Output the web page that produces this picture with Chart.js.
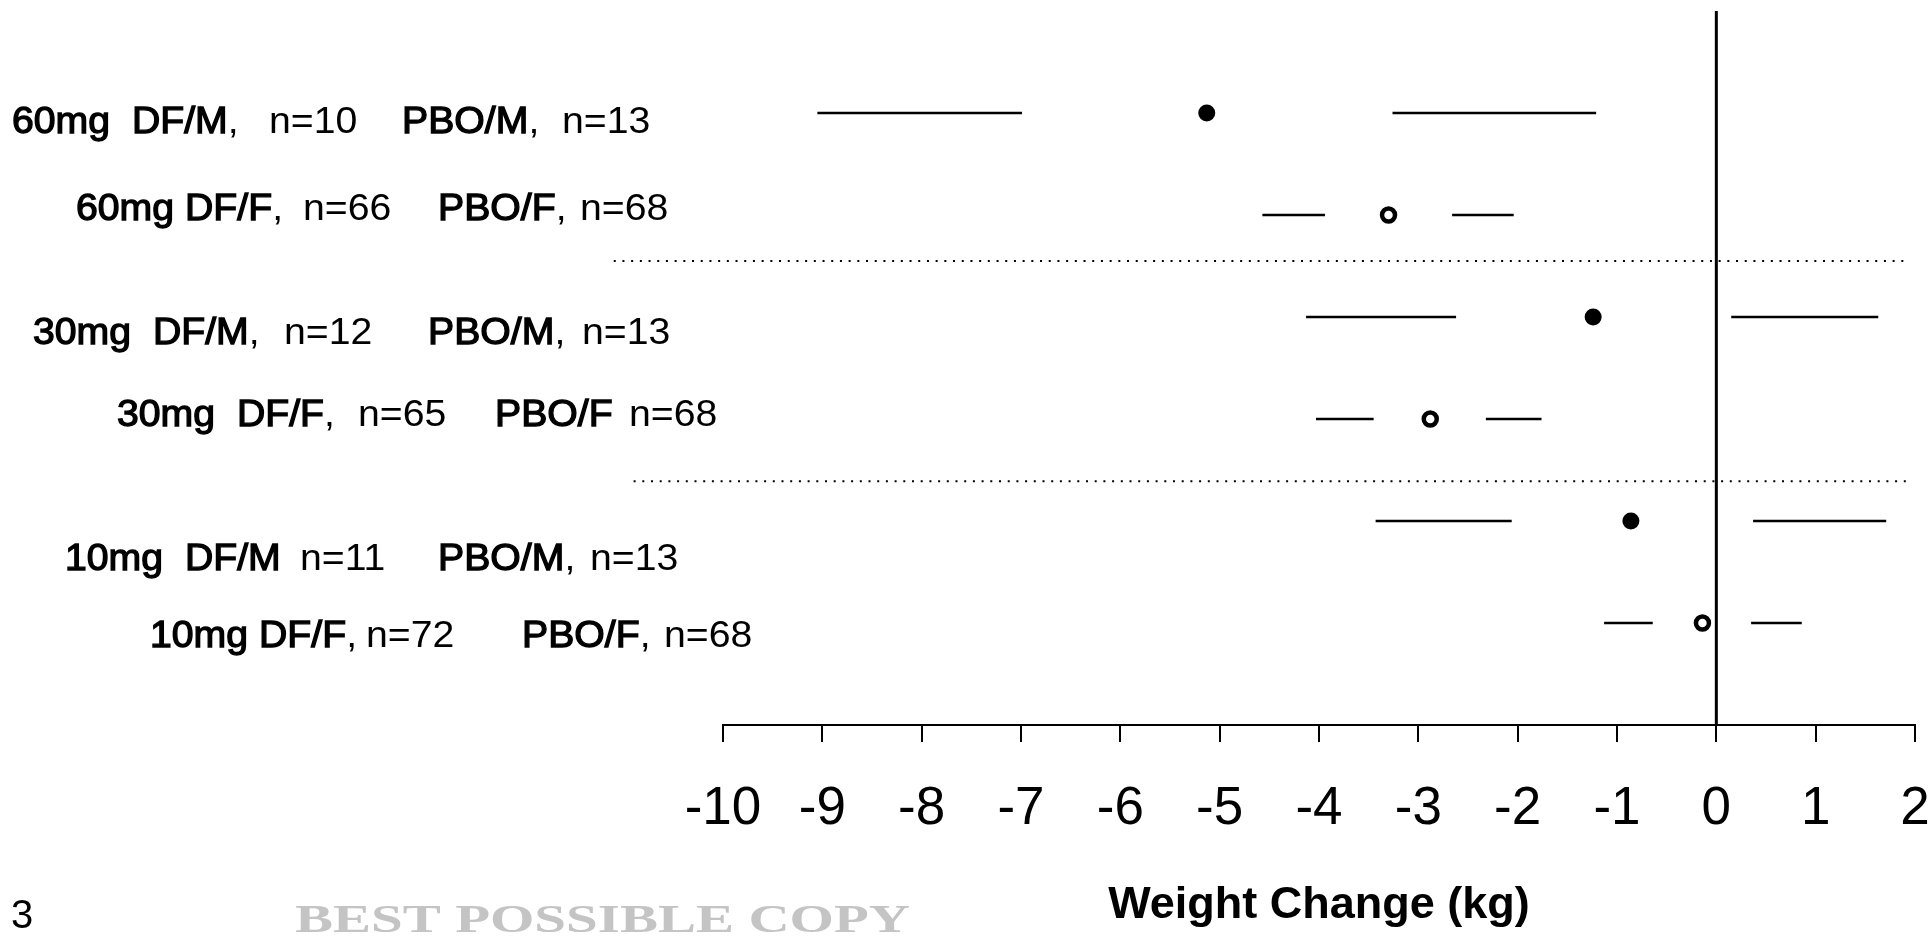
<!DOCTYPE html>
<html>
<head>
<meta charset="utf-8">
<script src="https://cdn.jsdelivr.net/npm/chart.js@4.4.0/dist/chart.umd.min.js"></script>
<style>
  html, body { margin: 0; padding: 0; background: #fff; }
  canvas { display: block; }
</style>
</head>
<body>
<canvas id="chart" width="1929" height="940"></canvas>
<script>
// rows top to bottom
const rows = [1, 2, 3, 4, 5, 6];
const doses = ['60mg  ', '60mg ', '30mg  ', '30mg  ', '10mg  ', '10mg '];
const dfGroups = ['DF/M,', 'DF/F,', 'DF/M,', 'DF/F,', 'DF/M', 'DF/F,'];
const dfN = ['n=10', 'n=66', 'n=12', 'n=65', 'n=11', 'n=72'];
const pboGroups = ['PBO/M,', 'PBO/F,', 'PBO/M,', 'PBO/F', 'PBO/M,', 'PBO/F,'];
const pboN = ['n=13', 'n=68', 'n=13', 'n=68', 'n=13', 'n=68'];

// weight change (kg): interval ends, inner gap ends and the mean
const ciLow = [-9.05, -4.57, -4.13, -4.03, -3.43, -1.13];
const gapLow = [-6.99, -3.94, -2.62, -3.45, -2.06, -0.64];
const means = [-5.13, -3.30, -1.24, -2.88, -0.86, -0.14];
const gapHigh = [-3.26, -2.66, 0.15, -2.32, 0.37, 0.35];
const ciHigh = [-1.21, -2.04, 1.63, -1.76, 1.71, 0.86];
const filledMarker = [true, false, true, false, true, false];

const xTicks = [-10, -9, -8, -7, -6, -5, -4, -3, -2, -1, 0, 1, 2];
const xTitle = 'Weight Change (kg)';

// dotted separators between dose groups
const sepY = [2.45, 4.61];
const sepFrom = [-11.1, -10.9];
const sepTo = [1.91, 1.97];

const FONT = '"Liberation Sans", Arial, sans-serif';

// label placement (pixels)
const labelLayout = {
  xDose: [12, 76, 33, 117, 65, 150],
  xDfN: [269, 303, 284, 358, 300, 360],
  xPbo: [402, 438, 428, 495, 438, 522],
  xPboN: [562, 580, 582, 629, 590, 664],
  baseline: [133, 220, 344, 426, 570, 647],
  stretch: 1.06,
  titleY: 906,
};

const datasets = [];
rows.forEach((r, i) => {
  datasets.push({
    data: [{ x: ciLow[i], y: r }, { x: gapLow[i], y: r }],
    showLine: true, borderColor: '#000', borderWidth: 2.5, pointRadius: 0,
  });
  datasets.push({
    data: [{ x: gapHigh[i], y: r }, { x: ciHigh[i], y: r }],
    showLine: true, borderColor: '#000', borderWidth: 2.5, pointRadius: 0,
  });
});
datasets.push({
  data: rows.map((r, i) => ({ x: means[i], y: r })),
  showLine: false,
  pointRadius: filledMarker.map((f) => (f ? 8.5 : 6.5)),
  pointBackgroundColor: filledMarker.map((f) => (f ? '#000' : '#fff')),
  pointBorderColor: '#000',
  pointBorderWidth: filledMarker.map((f) => (f ? 0 : 4.5)),
});
// zero reference line
datasets.push({
  data: [{ x: 0, y: 0 }, { x: 0, y: 7 }],
  showLine: true, borderColor: '#000', borderWidth: 3, pointRadius: 0,
});
sepY.forEach((y, i) => {
  datasets.push({
    data: [{ x: sepFrom[i], y }, { x: sepTo[i], y }],
    showLine: true, borderColor: '#000', borderWidth: 2, borderDash: [2, 6.7],
    pointRadius: 0, clip: false,
  });
});

const rowLabels = {
  id: 'rowLabels',
  afterDraw(chart) {
    const ctx = chart.ctx;
    const L = labelLayout;
    const sx = L.stretch;
    const area = chart.chartArea;
    ctx.save();
    ctx.fillStyle = '#000';
    ctx.strokeStyle = '#000';

    // axis title
    ctx.font = 'bold 45px ' + FONT;
    ctx.textAlign = 'center';
    ctx.textBaseline = 'middle';
    ctx.fillText(xTitle, (area.left + area.right) / 2, L.titleY);

    ctx.textBaseline = 'alphabetic';
    ctx.textAlign = 'left';
    ctx.font = '37px ' + FONT;
    // returns the x where the drawn text ends
    const put = (txt, x, y, heavy) => {
      ctx.save();
      ctx.translate(x, y);
      ctx.scale(sx, 1);
      ctx.fillText(txt, 0, 0);
      if (heavy) {
        ctx.lineWidth = 1.3;
        ctx.strokeText(txt, 0, 0);
      }
      ctx.restore();
      return x + ctx.measureText(txt).width * sx;
    };
    const group = (txt, x, y) => {
      const name = txt.replace(',', '');
      let end = put(name, x, y, true);
      if (txt.endsWith(',')) end = put(',', end, y, false);
      return end;
    };
    rows.forEach((r, i) => {
      const y = L.baseline[i];
      let end = put(doses[i], L.xDose[i], y, true);
      end = group(dfGroups[i], end, y);
      put(dfN[i], Math.max(L.xDfN[i], end + 9), y, false);
      group(pboGroups[i], L.xPbo[i], y);
      put(pboN[i], L.xPboN[i], y, false);
    });

    // page number and faded stamp at the bottom
    ctx.font = '40px ' + FONT;
    ctx.fillText('3', 11, 928);
    ctx.fillStyle = '#c4c4c4';
    ctx.font = 'bold 40px "Liberation Serif", serif';
    const stamp = 'BEST POSSIBLE COPY';
    const sw = ctx.measureText(stamp).width;
    ctx.translate(295, 932);
    ctx.scale(615 / sw, 1);
    ctx.fillText(stamp, 0, 0);
    ctx.restore();
  },
};

new Chart(document.getElementById('chart'), {
  type: 'scatter',
  data: { datasets },
  plugins: [rowLabels],
  options: {
    responsive: false,
    animation: false,
    devicePixelRatio: 1,
    layout: { padding: { left: 723, right: 14, top: 11, bottom: 0 } },
    plugins: { legend: { display: false }, tooltip: { enabled: false } },
    scales: {
      x: {
        type: 'linear',
        min: -10,
        max: 2,
        afterBuildTicks: (s) => { s.ticks = xTicks.map((v) => ({ value: v })); },
        afterFit: (s) => {
          s.height = 215;
          s.paddingLeft = 0;
          s.paddingRight = 0;
        },
        ticks: {
          color: '#000',
          font: { family: FONT, size: 53 },
          padding: 36,
          maxRotation: 0,
          autoSkip: false,
        },
        grid: { drawOnChartArea: false, drawTicks: true, tickLength: 17, color: '#000', lineWidth: 2 },
        border: { display: true, color: '#000', width: 2 },
        title: { display: false },
      },
      y: { type: 'linear', min: 0, max: 7, reverse: true, display: false },
    },
  },
});
</script>
</body>
</html>
